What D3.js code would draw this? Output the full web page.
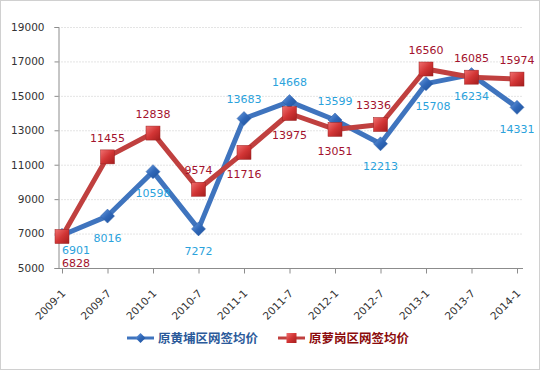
<!DOCTYPE html>
<html>
<head>
<meta charset="utf-8">
<script src="https://cdn.jsdelivr.net/npm/d3@7"></script>
<style>
  html, body { margin: 0; padding: 0; background: #fff; }
  svg { display: block; }
</style>
</head>
<body>
<div id="chart"></div>
<script>
const categories = ["2009-1","2009-7","2010-1","2010-7","2011-1","2011-7","2012-1","2012-7","2013-1","2013-7","2014-1"];
const huangpu = [6901, 8016, 10598, 7272, 13683, 14668, 13599, 12213, 15708, 16234, 14331];
const luogang = [6828, 11455, 12838, 9574, 11716, 13975, 13051, 13336, 16560, 16085, 15974];
const yTicks = [5000, 7000, 9000, 11000, 13000, 15000, 17000, 19000];
const seriesNames = ["原黄埔区网签均价", "原萝岗区网签均价"];
// label placement per point: a = above, b = below, f = first (special), l/r = nudged left/right
const huangpuLabelPos = ["f1","b","b","b","a","a","a","b","br","b","b"];
const luogangLabelPos = ["f2","a","a","a","b","b","b","al","a","a","a"];

const W = 540, H = 370;
const svg = d3.select("#chart").append("svg").attr("width", W).attr("height", H);
const defs = svg.append("defs");

const gb = defs.append("linearGradient").attr("id","gBlue").attr("x1","0").attr("y1","0").attr("x2","1").attr("y2","1");
gb.append("stop").attr("offset","0").attr("stop-color","#6d9ee0");
gb.append("stop").attr("offset","0.5").attr("stop-color","#2f67b8");
gb.append("stop").attr("offset","1").attr("stop-color","#1d4f98");
const gr = defs.append("linearGradient").attr("id","gRed").attr("x1","0").attr("y1","0").attr("x2","1").attr("y2","1");
gr.append("stop").attr("offset","0").attr("stop-color","#f07070");
gr.append("stop").attr("offset","0.5").attr("stop-color","#d23535");
gr.append("stop").attr("offset","1").attr("stop-color","#a31d1d");

// outer border
svg.append("rect").attr("x",0.5).attr("y",0.5).attr("width",W-1).attr("height",H-1)
  .attr("fill","#fff").attr("stroke","#d0d0d0");

const x = d3.scalePoint().domain(categories).range([62, 517]);
const y = d3.scaleLinear().domain([5000, 19000]).range([268, 27]);
const axisLeft = 58, axisRight = 523;

// gridlines
svg.append("g").selectAll("line").data(yTicks.filter(d => d > 5000)).join("line")
  .attr("x1", axisLeft).attr("x2", axisRight)
  .attr("y1", d => y(d) + 0.5).attr("y2", d => y(d) + 0.5)
  .attr("stroke", "#e4e4e4").attr("stroke-dasharray", "2,1");

// y axis
const yAxis = d3.axisLeft(y).tickValues(yTicks).tickSize(4).tickFormat(d3.format("d"));
const gy = svg.append("g").attr("transform", `translate(${axisLeft + 0.5},0)`).call(yAxis);
gy.select(".domain").attr("stroke", "#8c8c8c");
gy.selectAll(".tick line").attr("stroke", "#8c8c8c");
gy.selectAll(".tick text").attr("x", -14).attr("fill", "#333")
  .style("font-family", "'DejaVu Sans', Verdana, sans-serif").style("font-size", "10.5px");

// x axis
const xAxis = d3.axisBottom(x).tickSize(5).tickSizeOuter(0);
const gx = svg.append("g").attr("transform", `translate(0,${y(5000) + 0.5})`).call(xAxis);
gx.select(".domain").attr("stroke", "#8c8c8c").attr("d", `M${axisLeft},0H${axisRight}`);
gx.selectAll(".tick line").attr("stroke", "#8c8c8c");
gx.selectAll(".tick text")
  .attr("text-anchor", "end").attr("fill", "#333")
  .attr("x", 0).attr("y", 0).attr("dy", "0.35em")
  .attr("transform", "translate(1,23) rotate(-45)")
  .style("font-family", "'DejaVu Sans', Verdana, sans-serif").style("font-size", "10.5px");

const line = d3.line().x((d, i) => x(categories[i])).y(d => y(d));

function drawSeries(vals, color, markerType, fillId) {
  svg.append("path").datum(vals).attr("d", line)
    .attr("fill", "none").attr("stroke", color).attr("stroke-width", 5)
    .attr("stroke-linejoin", "round");
  const g = svg.append("g");
  vals.forEach((v, i) => {
    const cx = x(categories[i]), cy = y(v);
    if (markerType === "diamond") {
      g.append("path").attr("d", `M${cx},${cy-7}L${cx+7},${cy}L${cx},${cy+7}L${cx-7},${cy}Z`)
        .attr("fill", `url(#${fillId})`).attr("stroke", "#2a5ea8").attr("stroke-width", 0.5);
    } else {
      g.append("rect").attr("x", cx - 7).attr("y", cy - 7).attr("width", 14).attr("height", 14)
        .attr("fill", `url(#${fillId})`).attr("stroke", "#9a2222").attr("stroke-width", 0.5);
    }
  });
}

drawSeries(huangpu, "#3f74be", "diamond", "gBlue");
drawSeries(luogang, "#c0403f", "square", "gRed");

function drawLabels(vals, posArr, color) {
  svg.append("g").selectAll("text").data(vals).join("text")
    .attr("x", (d, i) => {
      const p = posArr[i], cx = x(categories[i]);
      if (p.endsWith("l")) return cx - 7;
      if (p.endsWith("r")) return cx + 7;
      return cx;
    })
    .attr("y", (d, i) => {
      const p = posArr[i], cy = y(d);
      if (p.startsWith("a")) return cy - 19;
      if (p.startsWith("b")) return cy + 22;
      if (p === "f1") return cy + 15;
      return cy + 27;
    })
    .attr("dy", "0.35em")
    .attr("text-anchor", (d, i) => posArr[i].startsWith("f") ? "start" : "middle")
    .attr("fill", color)
    .style("font-family", "'DejaVu Sans', Verdana, sans-serif").style("font-size", "11px")
    .text(d => d);
}
drawLabels(huangpu, huangpuLabelPos, "#2aa2dc");
drawLabels(luogang, luogangLabelPos, "#a3122d");

// legend
const legend = svg.append("g");
const legY = 338;
const items = [
  {name: seriesNames[0], color: "#3f74be", text: "#2b5a9a", type: "diamond", fill: "gBlue", x0: 127},
  {name: seriesNames[1], color: "#c0403f", text: "#8b0a0a", type: "square", fill: "gRed", x0: 278}
];
items.forEach(it => {
  legend.append("line").attr("x1", it.x0).attr("x2", it.x0 + 27).attr("y1", legY).attr("y2", legY)
    .attr("stroke", it.color).attr("stroke-width", 3);
  const cx = it.x0 + 13.5;
  if (it.type === "diamond") {
    legend.append("path").attr("d", `M${cx},${legY-5}L${cx+5},${legY}L${cx},${legY+5}L${cx-5},${legY}Z`)
      .attr("fill", `url(#${it.fill})`);
  } else {
    legend.append("rect").attr("x", cx - 5).attr("y", legY - 5).attr("width", 10).attr("height", 10)
      .attr("fill", `url(#${it.fill})`);
  }
  legend.append("text").attr("x", it.x0 + 31).attr("y", legY).attr("dy", "0.36em")
    .attr("fill", it.text).style("font-weight", "bold")
    .style("font-family", "'Noto Sans CJK SC', sans-serif").style("font-size", "12.5px")
    .text(it.name);
});
</script>
</body>
</html>
